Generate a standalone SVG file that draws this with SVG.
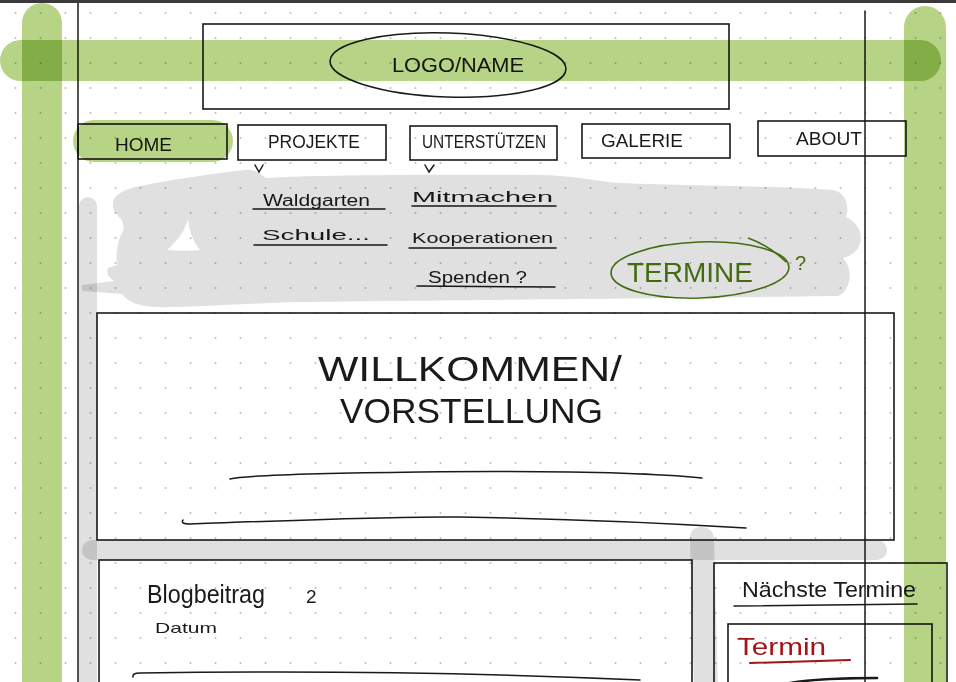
<svg xmlns="http://www.w3.org/2000/svg" width="956" height="682" viewBox="0 0 956 682">
<defs>
<pattern id="dots" patternUnits="userSpaceOnUse" x="0" y="0" width="25" height="25">
<circle cx="15.5" cy="13" r="1" fill="#bdbdbd"/>
</pattern>
<style>
.box{fill:none;stroke:#1a1a1a;stroke-width:1.6}
.ln{fill:none;stroke:#1a1a1a;stroke-width:1.5;stroke-linecap:round}
.hand{font-family:"Liberation Sans",Arial,sans-serif;fill:#1a1a1a}
.green{fill:#b7d386;mix-blend-mode:multiply}
.gray{fill:#e0e0e0;mix-blend-mode:multiply}
</style>
</defs>
<rect width="956" height="682" fill="#ffffff"/>
<rect width="956" height="682" fill="url(#dots)"/>

<g id="guides">
<line class="ln" x1="78" y1="3" x2="78" y2="682"/>
<line class="ln" x1="865" y1="11" x2="865" y2="682"/>
</g>

<g id="logo">
<rect class="box" x="203" y="24" width="526" height="85"/>
<ellipse class="ln" cx="448" cy="65" rx="118" ry="32" transform="rotate(2 448 65)"/>
<text class="hand" x="392" y="72" font-size="21" textLength="132" lengthAdjust="spacingAndGlyphs">LOGO/NAME</text>
</g>

<g id="nav-home">
<rect class="box" x="78" y="124" width="149" height="35"/>
<text class="hand" x="115" y="151" font-size="19" textLength="57" lengthAdjust="spacingAndGlyphs">HOME</text>
</g>
<g id="nav-projekte">
<rect class="box" x="238" y="125" width="148" height="35"/>
<text class="hand" x="268" y="148" font-size="19" textLength="92" lengthAdjust="spacingAndGlyphs">PROJEKTE</text>
<path class="ln" d="M255,165 L259,172 L263,165" stroke-width="1.2"/>
</g>
<g id="nav-unterstuetzen">
<rect class="box" x="410" y="126" width="147" height="34"/>
<text class="hand" x="422" y="148" font-size="18" textLength="124" lengthAdjust="spacingAndGlyphs">UNTERSTÜTZEN</text>
<path class="ln" d="M425,165 L429,172 L434,165" stroke-width="1.2"/>
</g>
<g id="nav-galerie">
<rect class="box" x="582" y="124" width="148" height="34"/>
<text class="hand" x="601" y="147" font-size="19" textLength="82" lengthAdjust="spacingAndGlyphs">GALERIE</text>
</g>
<g id="nav-about">
<rect class="box" x="758" y="121" width="148" height="35"/>
<text class="hand" x="796" y="145" font-size="18" textLength="66" lengthAdjust="spacingAndGlyphs">ABOUT</text>
</g>

<g id="submenu-projekte">
<text class="hand" x="263" y="206" font-size="16" textLength="107" lengthAdjust="spacingAndGlyphs">Waldgarten</text>
<path class="ln" d="M253,209 L385,209"/>
<text class="hand" x="262" y="240" font-size="15" textLength="108" lengthAdjust="spacingAndGlyphs">Schule...</text>
<path class="ln" d="M254,245 L387,245"/>
</g>
<g id="submenu-unterstuetzen">
<text class="hand" x="412" y="202" font-size="15" textLength="141" lengthAdjust="spacingAndGlyphs">Mitmachen</text>
<path class="ln" d="M412,206 L556,206"/>
<text class="hand" x="412" y="243" font-size="15" textLength="141" lengthAdjust="spacingAndGlyphs">Kooperationen</text>
<path class="ln" d="M409,248 L556,248"/>
<text class="hand" x="428" y="283" font-size="16" textLength="99" lengthAdjust="spacingAndGlyphs">Spenden ?</text>
<path class="ln" d="M417,286 L555,287"/>
</g>

<g id="termine-bubble">
<ellipse cx="700" cy="270" rx="89" ry="28" fill="none" stroke="#4d7a13" stroke-width="1.6" transform="rotate(-2 700 270)"/>
<path d="M748,238 Q770,246 786,262" fill="none" stroke="#4d7a13" stroke-width="1.5"/>
<text x="627" y="282" font-family="Liberation Sans, Arial, sans-serif" font-size="27" fill="#4d7a13" textLength="126" lengthAdjust="spacingAndGlyphs">TERMINE</text>
<text x="795" y="270" font-family="Liberation Sans, Arial, sans-serif" font-size="20" fill="#4d7a13">?</text>
</g>

<g id="welcome">
<rect class="box" x="97" y="313" width="797" height="227"/>
<text class="hand" x="318" y="381" font-size="35" textLength="304" lengthAdjust="spacingAndGlyphs">WILLKOMMEN/</text>
<text class="hand" x="340" y="423" font-size="35" textLength="263" lengthAdjust="spacingAndGlyphs">VORSTELLUNG</text>
<path class="ln" d="M230,479 Q250,474 420,472 Q620,470 702,478"/>
<path class="ln" d="M183,520 Q180,524 190,524 Q400,516 460,517 Q600,519 746,528"/>
</g>

<g id="blog">
<rect class="box" x="99" y="560" width="593" height="130"/>
<text class="hand" x="147" y="603" font-size="26" textLength="118" lengthAdjust="spacingAndGlyphs">Blogbeitrag</text>
<text class="hand" x="306" y="603" font-size="19">2</text>
<text class="hand" x="155" y="633" font-size="15" textLength="62" lengthAdjust="spacingAndGlyphs">Datum</text>
<path class="ln" d="M133,677 Q132,673 140,673 Q400,669 640,680"/>
</g>

<g id="naechste-termine">
<rect class="box" x="714" y="563" width="233" height="130"/>
<text class="hand" x="742" y="597" font-size="22" textLength="174" lengthAdjust="spacingAndGlyphs">Nächste Termine</text>
<path class="ln" d="M734,606 L917,604" stroke-width="2"/>
<rect class="box" x="728" y="624" width="204" height="70"/>
<text x="737" y="655" font-family="Liberation Sans, Arial, sans-serif" font-size="24" fill="#a31515" textLength="89" lengthAdjust="spacingAndGlyphs">Termin</text>
<path d="M750,663 L850,660" fill="none" stroke="#a31515" stroke-width="2" stroke-linecap="round"/>
<path d="M790,683 Q820,678 877,678" fill="none" stroke="#1a1a1a" stroke-width="2.5" stroke-linecap="round"/>
</g>

<g id="highlights">
<rect class="green" x="22" y="3" width="40" height="700" rx="20"/>
<rect class="green" x="904" y="6" width="42" height="700" rx="21"/>
<rect class="green" x="0" y="40" width="941" height="41" rx="20.5"/>
<rect class="green" x="73" y="120" width="160" height="42" rx="21"/>
<path class="gray" fill-rule="evenodd" d="M113,205 C112,195 125,189 140,186 C170,180 210,174 245,170 C258,169 262,176 266,178 C300,175 450,174 540,175 C580,176 600,182 620,183 C700,186 780,186 833,190 C848,193 849,210 846,217 C858,222 863,235 860,243 C858,252 850,256 843,258 C853,268 852,290 838,296 C700,298 450,300 300,302 C230,304 180,308 155,307 C138,306 128,302 122,294 L82,291 L82,285 L114,281 C108,277 106,272 108,268 L117,265 C116,255 117,245 120,237 C124,231 125,226 121,219 C116,214 112,209 113,205 Z M167,250 C175,243 185,232 188,219 C189,232 194,243 200,250 C190,251 178,251 167,250 Z"/>
<rect class="gray" x="79" y="197" width="18" height="500" rx="9"/>
<rect class="gray" x="82" y="540" width="805" height="20" rx="10"/>
<path class="gray" d="M690,539 Q690,527 701,527 Q713,527 714,539 L718,690 L694,690 Z"/>
</g>

<rect x="0" y="0" width="956" height="3" fill="#3a3a3a"/>
</svg>
